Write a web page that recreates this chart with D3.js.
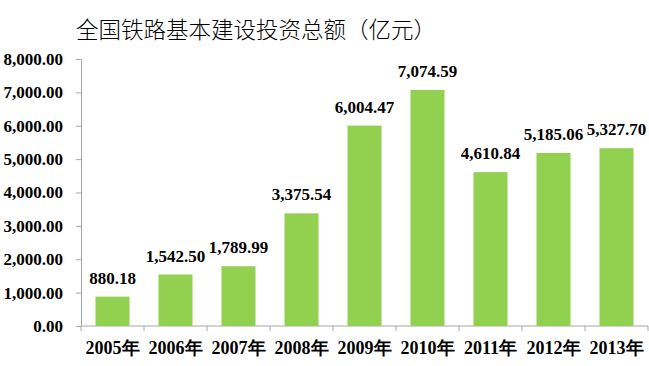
<!DOCTYPE html>
<html>
<head>
<meta charset="utf-8">
<script src="https://cdn.jsdelivr.net/npm/d3@7"></script>
<style>
  html, body { margin: 0; padding: 0; background: #fff; }
  svg { display: block; }
</style>
</head>
<body>
<svg id="chart" width="649" height="366"></svg>
<script>
const title = "全国铁路基本建设投资总额（亿元）";
const years = ["2005年","2006年","2007年","2008年","2009年","2010年","2011年","2012年","2013年"];
const values = [880.18, 1542.50, 1789.99, 3375.54, 6004.47, 7074.59, 4610.84, 5185.06, 5327.70];
const yTicks = [0, 1000, 2000, 3000, 4000, 5000, 6000, 7000, 8000];

const W = 649, H = 366;
const margin = {top: 59, right: 1, bottom: 40, left: 81};
const svg = d3.select("#chart");
const serif = "'Liberation Serif','Times New Roman',serif";
const fmt = d3.format(",.2f");

const x = d3.scaleBand().domain(years).range([margin.left, W - margin.right])
  .paddingInner(0.46).paddingOuter(0.23);
const y = d3.scaleLinear().domain([0, 8000]).range([H - margin.bottom, margin.top]);

// Title
svg.append("text")
  .attr("x", 76).attr("y", 38)
  .attr("text-anchor", "start")
  .attr("font-family", "'Noto Sans CJK SC', sans-serif")
  .attr("font-size", 22.5)
  .attr("font-weight", 300)
  .attr("fill", "#000")
  .text(title);

const axisColor = "#A6A6A6";

// Y axis
const yAxis = svg.append("g")
  .attr("transform", `translate(${margin.left},0)`)
  .call(d3.axisLeft(y).tickValues(yTicks).tickFormat(fmt).tickSize(5).tickPadding(13));
yAxis.select(".domain").attr("stroke", axisColor);
yAxis.selectAll(".tick line").attr("stroke", axisColor);
yAxis.selectAll(".tick text")
  .attr("font-family", serif).attr("font-size", 17).attr("font-weight", "bold").attr("fill", "#000");

// X axis line
const x0 = margin.left, x1 = W - margin.right, yb = y(0);
svg.append("line").attr("x1", x0).attr("x2", x1).attr("y1", yb).attr("y2", yb)
  .attr("stroke", axisColor);
const step = x.step();
const bounds = years.map(d => x(d) - (step - x.bandwidth()) / 2).concat([x1]);
svg.append("g").selectAll("line").data(bounds).join("line")
  .attr("x1", d => d).attr("x2", d => d)
  .attr("y1", yb).attr("y2", yb + 5)
  .attr("stroke", axisColor);

// X labels
svg.append("g").selectAll("text").data(years).join("text")
  .attr("x", d => x(d) + x.bandwidth() / 2)
  .attr("y", 354)
  .attr("text-anchor", "middle")
  .attr("font-family", serif).attr("font-size", 18).attr("font-weight", "bold").attr("fill", "#000")
  .text(d => d);

// Bars
svg.append("g").selectAll("rect").data(values).join("rect")
  .attr("x", (d, i) => x(years[i]))
  .attr("y", d => y(d))
  .attr("width", x.bandwidth())
  .attr("height", d => y(0) - y(d))
  .attr("fill", "#92D050");

// Value labels
svg.append("g").selectAll("text").data(values).join("text")
  .attr("x", (d, i) => x(years[i]) + x.bandwidth() / 2)
  .attr("y", d => y(d) - 13)
  .attr("text-anchor", "middle")
  .attr("font-family", serif).attr("font-size", 17).attr("font-weight", "bold").attr("fill", "#000")
  .text(d => fmt(d));
</script>
</body>
</html>
